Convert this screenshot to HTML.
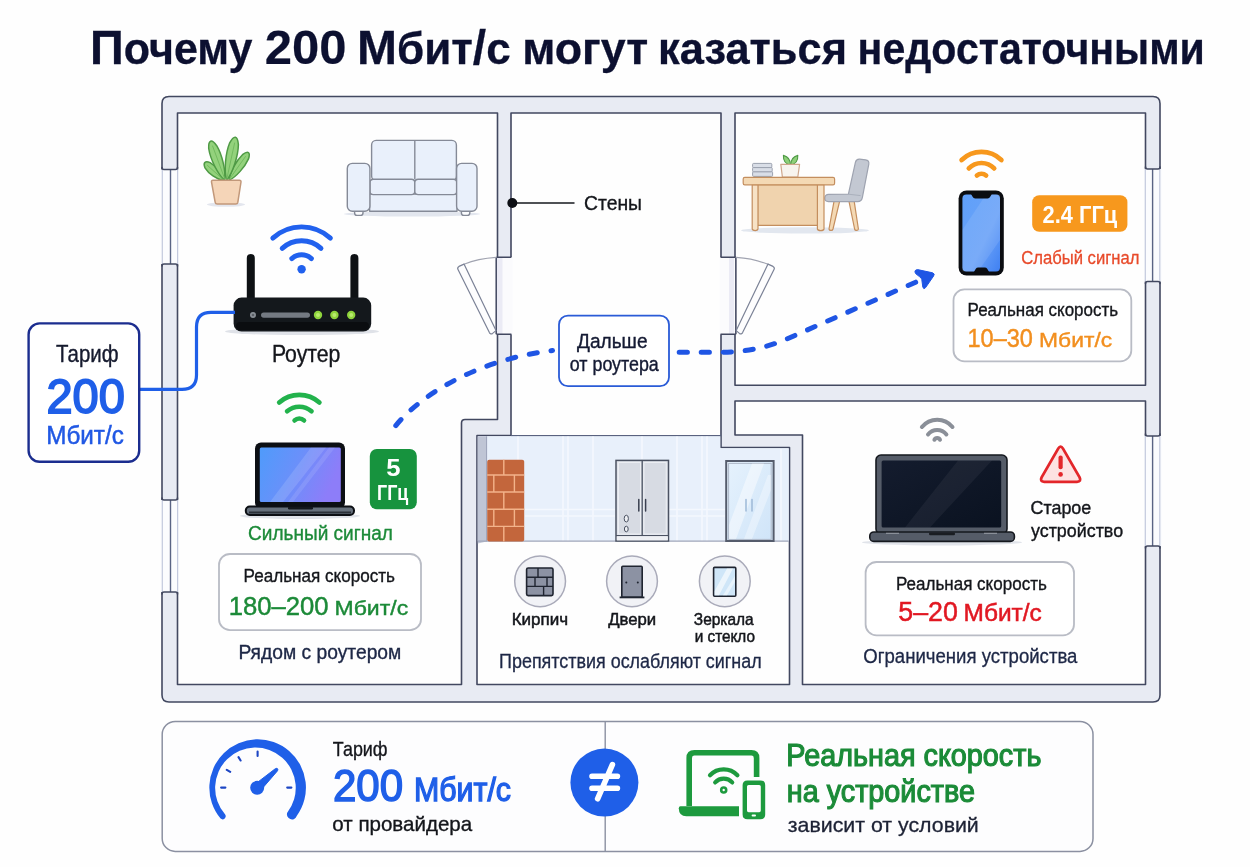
<!DOCTYPE html>
<html lang="ru">
<head>
<meta charset="utf-8">
<title>Почему 200 Мбит/с могут казаться недостаточными</title>
<style>
  html, body { margin: 0; padding: 0; background: #fefefe; }
  body { width: 1250px; height: 867px; overflow: hidden; font-family: "Liberation Sans", sans-serif; }
  svg { display: block; will-change: transform; }
  text { font-family: "Liberation Sans", sans-serif; }
  .b { font-weight: bold; }
  .wall { fill: #e8ebf3; stroke: #424860; stroke-width: 1.6; stroke-linejoin: round; }
  .box { fill: #ffffff; stroke: #b9bcc5; stroke-width: 1.8; }
</style>
</head>
<body>
<svg width="1250" height="867" viewBox="0 0 1250 867">
  <defs>
    <linearGradient id="gScreen" x1="0" y1="0" x2="1" y2="0.3">
      <stop offset="0" stop-color="#4f9bfb"/>
      <stop offset="0.5" stop-color="#6a90fa"/>
      <stop offset="1" stop-color="#8d7df9"/>
    </linearGradient>
    <linearGradient id="gPhone" x1="0" y1="0" x2="1" y2="1">
      <stop offset="0" stop-color="#5fa0fa"/>
      <stop offset="0.6" stop-color="#6aa2f8"/>
      <stop offset="1" stop-color="#3f80f2"/>
    </linearGradient>
    <linearGradient id="gDark" x1="0" y1="0" x2="1" y2="1">
      <stop offset="0" stop-color="#141c2e"/>
      <stop offset="1" stop-color="#0a1220"/>
    </linearGradient>
    <linearGradient id="gGlass" x1="0" y1="0" x2="1" y2="1">
      <stop offset="0" stop-color="#e6f2fd"/>
      <stop offset="1" stop-color="#cfe4f8"/>
    </linearGradient>
  </defs>

  <rect x="0" y="0" width="1250" height="867" fill="#fefefe"/>

  <!-- ===== TITLE ===== -->
<!-- title is rendered in the labels group -->

  <!-- ===== FLOOR PLAN WALLS ===== -->
  <g id="walls">
    <path class="wall" fill-rule="evenodd" d="
      M169,96.5 H1153 Q1160,96.5 1160,103.5 V695 Q1160,702 1153,702 H169 Q162,702 162,695 V103.5 Q162,96.5 169,96.5 Z
      M177.5,113 V684.5 H461.5 V423 Q461.5,419.5 465,419.5 H497.5 V113 Z
      M511,113 V435.5 H477 V684.5 H789.5 V447.5 H721 V113 Z
      M735,113 V385.2 H1145.5 V113 Z
      M735,401 V435 H802.5 V684.5 H1145.5 V401 Z
    "/>
  </g>


  <path id="corr-line" d="M511,435.8 H721" stroke="#59627f" stroke-width="1.5" fill="none"/>
  <!-- windows -->
  <g id="windows">
    <g fill="#fbfcfe" stroke="none">
      <rect x="160.5" y="169.5" width="18.5" height="94.5"/>
      <rect x="160.5" y="500" width="18.5" height="92"/>
      <rect x="1144" y="169" width="18" height="112.5"/>
      <rect x="1144" y="436" width="18" height="110"/>
    </g>
    <g stroke="#c3c9dd" stroke-width="1.2" fill="none">
      <path d="M162.3,169.5 V264 M177.6,169.5 V264 M162.3,500 V592 M177.6,500 V592"/>
      <path d="M1145.3,169 V281.5 M1159.8,169 V281.5 M1145.3,436 V546 M1159.8,436 V546"/>
    </g>
    <g stroke="#5a6484" stroke-width="1.4" fill="none">
      <path d="M170.5,169.5 V264 M170.5,500 V592 M1152.6,169 V281.5 M1152.6,436 V546"/>
    </g>
    <g stroke="#424860" stroke-width="1.6" fill="none" stroke-linecap="round">
      <path d="M162,167.5 Q162,169.5 164,169.5 H175.5 Q177.5,169.5 177.5,167.5"/>
      <path d="M162,266 Q162,264 164,264 H175.5 Q177.5,264 177.5,266"/>
      <path d="M162,498 Q162,500 164,500 H175.5 Q177.5,500 177.5,498"/>
      <path d="M162,594 Q162,592 164,592 H175.5 Q177.5,592 177.5,594"/>
      <path d="M1145.5,167 Q1145.5,169 1147.5,169 H1158 Q1160,169 1160,167"/>
      <path d="M1145.5,283.5 Q1145.5,281.5 1147.5,281.5 H1158 Q1160,281.5 1160,283.5"/>
      <path d="M1145.5,434 Q1145.5,436 1147.5,436 H1158 Q1160,436 1160,434"/>
      <path d="M1145.5,548 Q1145.5,546 1147.5,546 H1158 Q1160,546 1160,548"/>
    </g>
  </g>

  <!-- doors -->
  <g id="doors">
    <g fill="#fbfbfd" stroke="none">
      <rect x="496.6" y="257" width="16" height="77.5"/>
      <rect x="719.5" y="257" width="16" height="77.5"/>
    </g>
    <rect x="497" y="258" width="5.5" height="76" fill="#ebebf5"/>
    <rect x="729" y="258" width="5" height="76" fill="#ebebf5"/>
    <g stroke="#424860" stroke-width="1.6" fill="none">
      <path d="M496.5,257.2 H511.4 M496.5,334.3 H511.4 M720.5,257.2 H735.8 M720.5,334.3 H735.8"/>
      <path d="M496.2,257.2 V334.3 M735.9,257.2 V334.3" stroke-width="1.5"/>
    </g>
    <g stroke="#7b8296" stroke-width="1.2" fill="#fdfdfe" stroke-linejoin="round" stroke-linecap="round">
      <path d="M464,264.2 Q478,258.6 496,257.4" fill="none" stroke="#a0a3b0"/>
      <path d="M459,266.4 Q457,267.6 458,269.6 L489.4,332.6 Q490.6,334.8 492.6,333.4 L496,330.6 L464,264.1 Z"/>
      <path d="M768.4,264.4 Q754,258.6 736.2,257.4" fill="none" stroke="#a0a3b0"/>
      <path d="M773,266.4 Q775,267.6 774,269.6 L742.6,332.6 Q741.4,334.8 739.4,333.4 L736.2,330.6 L768,264.1 Z"/>
    </g>
  </g>

  <!-- ===== LEFT ROOM ===== -->
  <g id="plant">
    <ellipse cx="226" cy="204.6" rx="19" ry="2.2" fill="#e3e6ee"/>
    <g fill="#93d27c" stroke="#4f9a45" stroke-width="1.5" stroke-linejoin="round">
      <path d="M223.2,180.4 C222.2,174.1 215.9,165.9 210.1,162.6 C207.0,161.4 205.7,161.7 204.8,162.6 C203.9,163.5 203.7,164.8 205.0,167.9 C208.4,173.6 216.8,179.6 223.2,180.4 Z"/>
      <path d="M229.0,180.4 C236.1,177.1 245.0,166.8 248.5,158.9 C249.8,154.8 249.5,153.3 248.4,152.6 C247.3,151.9 245.9,152.1 242.5,154.7 C236.2,160.6 229.7,172.6 229.0,180.4 Z"/>
      <path d="M224.6,180.4 C226.0,171.0 222.1,154.8 216.7,145.7 C213.6,141.5 212.0,140.7 210.6,141.2 C209.2,141.7 208.4,143.3 208.7,148.5 C210.3,159.0 217.6,174.1 224.6,180.4 Z"/>
      <path d="M226.6,180.4 C232.9,172.7 238.2,155.8 238.4,144.6 C237.9,139.1 236.9,137.5 235.4,137.2 C233.9,136.9 232.3,137.9 229.7,142.8 C225.5,153.2 223.8,170.8 226.6,180.4 Z"/>
    </g>
    <path d="M222.6,179 L207.5,165.5 M229.6,179 L245.5,156.5 M224.8,179 L212.6,146 M226.8,179 L234.6,143" stroke="#6fb85c" stroke-width="0.9" fill="none" stroke-linecap="round"/>
    <path d="M213,180.2 H239.4 Q241.2,180.2 241,182 L237.8,202.4 Q237.5,204 235.8,204 H217.2 Q215.5,204 215.2,202.4 L211.5,182 Q211.2,180.2 213,180.2 Z" fill="#f5d5b8" stroke="#c2987a" stroke-width="1.5" stroke-linejoin="round"/>
  </g>

  <g id="sofa">
    <ellipse cx="412" cy="214" rx="68" ry="2.6" fill="#e2e6ee"/>
    <g fill="#e9f0fb" stroke="#858a97" stroke-width="1.4" stroke-linejoin="round">
      <rect x="354.6" y="209" width="8.4" height="6.4" rx="2.4" fill="#fbfcfe"/>
      <rect x="461.4" y="209" width="8.4" height="6.4" rx="2.4" fill="#fbfcfe"/>
      <rect x="369.6" y="194" width="87.4" height="17.2"/>
      <rect x="371.6" y="140.4" width="84.8" height="40" rx="4.5"/>
      <path d="M414.8,140.4 V179" fill="none"/>
      <rect x="370" y="179.2" width="44.8" height="15.4" rx="3.4"/>
      <rect x="414.8" y="179.2" width="42" height="15.4" rx="3.4"/>
      <rect x="347.3" y="163.4" width="22.6" height="47.8" rx="5"/>
      <rect x="456.6" y="163.4" width="20.4" height="47.8" rx="5"/>
    </g>
  </g>
  </g>

  <g id="wifi-blue" fill="none" stroke="#2161ee" stroke-width="4.9" stroke-linecap="round">
    <path d="M291.8,258.6 A14.5,14.5 0 0 1 311.4,258.6"/>
    <path d="M282.2,248.4 A28.5,28.5 0 0 1 321,248.4"/>
    <path d="M272.8,238.1 A42.5,42.5 0 0 1 330.4,238.1"/>
    <circle cx="301.6" cy="269.2" r="4.2" fill="#2161ee" stroke="none"/>
  </g>

  <g id="router">
    <ellipse cx="302" cy="331.5" rx="77" ry="3.6" fill="#dfe2e8"/>
    <rect x="246.8" y="254" width="8" height="50" rx="4" fill="#0e1114"/>
    <rect x="350.4" y="254" width="8" height="50" rx="4" fill="#0e1114"/>
    <rect x="233.6" y="297.6" width="137.6" height="34" rx="8" fill="#14181c"/>
    <rect x="236" y="322" width="133" height="8" rx="4" fill="#0b0d10"/>
    <circle cx="253" cy="315" r="3" fill="#8a8f96"/>
    <circle cx="253" cy="315" r="1.3" fill="#5a5f66"/>
    <rect x="261" y="312.4" width="49" height="5.4" rx="2.7" fill="#747a82"/>
    <g fill="#8fd43c">
      <circle cx="318" cy="315" r="4.2"/><circle cx="334.4" cy="315" r="4.2"/><circle cx="351.2" cy="315" r="4.2"/>
    </g>
    <g fill="#b9ea6e">
      <circle cx="318" cy="315" r="2"/><circle cx="334.4" cy="315" r="2"/><circle cx="351.2" cy="315" r="2"/>
    </g>
  </g>

  <!-- cable + tariff box -->
  <path d="M139,389.3 H182 Q196.5,389.3 196.5,375 V327 Q196.5,312.3 211,312.3 H235" fill="none" stroke="#1f5fe8" stroke-width="3.2"/>
  <rect x="28.6" y="323.4" width="110.6" height="138.4" rx="11" fill="#ffffff" stroke="#1b2d8f" stroke-width="2.4"/>

  <!-- laptop near router -->
  <g id="wifi-green" fill="none" stroke="#22b24c" stroke-width="4.7" stroke-linecap="round">
    <path d="M294.6,420.4 A6.8,6.8 0 0 1 304.0,420.4"/>
    <path d="M287.1,411.3 A18.6,18.6 0 0 1 311.5,411.3"/>
    <path d="M279.2,402.5 A30.4,30.4 0 0 1 319.4,402.5"/>
  </g>
  <g id="laptop1">
    <ellipse cx="300" cy="516" rx="60" ry="3" fill="#e1e4ea"/>
    <rect x="255" y="442.6" width="90" height="66" rx="6" fill="#0c0f14"/>
    <rect x="259.8" y="447.5" width="81" height="54.5" rx="1.5" fill="url(#gScreen)"/>
    <path d="M311,447.5 L326,447.5 L283,502 L270,502 Z" fill="#ffffff" opacity="0.13"/>
    <path d="M329,447.5 L335,447.5 L293,502 L288,502 Z" fill="#ffffff" opacity="0.1"/>
    <rect x="245.8" y="506.6" width="108.2" height="8.4" rx="4" fill="#66707c" stroke="#0c0f14" stroke-width="2"/>
    <path d="M249,512.6 H351" stroke="#2a3038" stroke-width="2" fill="none"/>
    <rect x="288" y="506.8" width="25" height="2.6" rx="1.2" fill="#14171c"/>
  </g>
  <rect x="369.8" y="448.9" width="47" height="60.4" rx="7" fill="#17933e"/>
  <rect class="box" x="219" y="554" width="202" height="76.2" rx="11"/>

  <!-- ===== CORRIDOR ===== -->
  <path d="M512.5,203 H574.5" stroke="#15171c" stroke-width="1.6" fill="none"/>
  <circle cx="512.3" cy="203" r="5" fill="#0d0f14"/>

  <g id="dash" fill="none" stroke="#1f55e4" stroke-width="5" stroke-linecap="round" stroke-dasharray="8.2 13.8">
    <path d="M395.8,425.6 C424,391 484,358.5 552.5,350.5"/>
    <path d="M679.2,352.3 H720 Q754.6,352.3 785,339.8 L917,281.6"/>
  </g>
  <path d="M917.6,269.6 L932.6,272.8 Q935.2,273.6 933.6,276 L925.6,287.6 Q923.6,290 922.8,287 L921.8,279.6 Q921.4,277.6 919.4,276.6 L915.6,273.6 Q913.6,270 917.6,269.6 Z" fill="#1f55e4" stroke="#1f55e4" stroke-width="1" stroke-linejoin="round"/>

  <rect x="559" y="315.6" width="110" height="70.6" rx="9" fill="#ffffff" stroke="#2a5bd7" stroke-width="1.8"/>

  <!-- ===== RIGHT TOP ROOM ===== -->
  <g id="desk">
    <ellipse cx="805" cy="230.4" rx="64" ry="3.2" fill="#e2e7ef"/>
    <!-- books -->
    <g fill="#d9dee7" stroke="#9aa0ae" stroke-width="1">
      <rect x="752.6" y="171.6" width="20" height="4.8" rx="1"/>
      <rect x="752.6" y="167.4" width="19.6" height="4.4" rx="1"/>
      <rect x="752.6" y="163.4" width="19.2" height="4.2" rx="1"/>
    </g>
    <!-- small plant -->
    <g fill="#8fd07a" stroke="#4f9a45" stroke-width="1.1" stroke-linejoin="round">
      <path d="M790.4,165 Q783,163.5 783.4,155.4 Q790.6,157.4 790.4,165 Z"/>
      <path d="M790.8,165 Q798.2,163.5 797.8,155.4 Q790.6,157.4 790.8,165 Z"/>
    </g>
    <path d="M780.8,164.4 H799.6 L797.8,177 H782.4 Z" fill="#f8f4ee" stroke="#cfa78c" stroke-width="1.2" stroke-linejoin="round"/>
    <!-- chair -->
    <g stroke-width="1.2" stroke-linejoin="round">
      <path d="M834,201.4 L829,229 Q829.4,230.6 831.2,230.4 Q832.6,230.4 833,229 L839.6,201.4 Z" fill="#f4d9b4" stroke="#c48e5e"/>
      <path d="M849,201.4 L854.6,229 Q855,230.6 856.6,230.4 Q858.2,230.4 858.4,229 L854.2,201.4 Z" fill="#f4d9b4" stroke="#c48e5e"/>
      <path d="M855.4,162.4 Q856.2,159 859.6,159.2 L865.6,159.8 Q869.4,160.4 868.8,164.2 L862.4,197.4 Q861.6,201.6 857.6,201.6 H828.4 Q824.6,201.4 824.8,198 Q825,194.6 828.6,194.4 L848.4,194.2 Z" fill="#c3c8d2" stroke="#9ea3b0"/>
      <path d="M848.4,194.2 L860.6,195.6" stroke="#aab0bc" fill="none" stroke-width="1"/>
    </g>
    <!-- desk -->
    <g stroke="#c48e5e" stroke-width="1.2" stroke-linejoin="round">
      <rect x="757.6" y="184.6" width="60" height="40.8" fill="#f0d3ae"/>
      <path d="M752.2,184.6 H758 V229 Q757.6,230.6 755.2,230.6 Q752.6,230.6 752.2,229 Z" fill="#f7e2c6"/>
      <path d="M817.4,184.6 H824 V229 Q823.6,230.6 820.8,230.6 Q817.8,230.6 817.4,229 Z" fill="#f7e2c6"/>
      <rect x="743.2" y="177.4" width="91.4" height="7.4" rx="1.6" fill="#f4d9b4"/>
    </g>
  </g>

  <g id="wifi-orange" fill="none" stroke="#f7981d" stroke-width="4.7" stroke-linecap="round">
    <path d="M976.9,175.5 A6.9,6.9 0 0 1 986.1,175.5"/>
    <path d="M968.8,168.4 A17.6,17.6 0 0 1 994.2,168.4"/>
    <path d="M961.6,160.0 A28.6,28.6 0 0 1 1001.4,160.0"/>
  </g>
  <g id="phone">
    <rect x="958.6" y="190.4" width="45.2" height="85.2" rx="8" fill="#0b0d11"/>
    <rect x="962.4" y="194.4" width="37.6" height="77.2" rx="4" fill="url(#gPhone)"/>
    <path d="M986,194.4 L1000,194.4 L1000,240 L978,271.6 L962.4,271.6 L962.4,230 Z" fill="#ffffff" opacity="0.1"/>
    <path d="M970.4,193 H992.4 L990.2,196.8 Q989.4,198.4 987.6,198.4 H975.2 Q973.4,198.4 972.6,196.8 Z" fill="#0b0d11"/>
    <path d="M973.6,272.6 L975.8,268.8 Q976.6,267.4 978.2,267.4 H984.8 Q986.4,267.4 987.2,268.8 L989.4,272.6 Z" fill="#0b0d11"/>
  </g>
  <rect x="1032.2" y="195.2" width="95.2" height="36.6" rx="7" fill="#f7981d"/>
  <rect class="box" x="953.5" y="289.4" width="177.8" height="72" rx="11"/>

  <!-- ===== OBSTACLES ROOM ===== -->
  <g id="tiles">
    <path d="M477.8,436.3 H720.3 V448.3 H788.7 V541 H477.8 Z" fill="#e8f0fb"/>
    <g stroke="#f4f8fe" stroke-width="1.6" fill="none">
      <path d="M518,436.5 V541 M563,436.5 V541 M568,436.5 V541 M593,436.5 V541 M642,436.5 V459 M677,436.5 V541 M702,436.5 V541 M707,436.5 V541 M781,449 V541"/>
      <path d="M525,509.5 H615 M525,516 H615 M669,509.5 H725 M669,516 H725"/>
    </g>
    <path d="M477.8,436.3 H486.6 V541.4 L477.8,543.4 Z" fill="#bfc5d5"/>
    <path d="M486.6,436.3 V541.4" stroke="#9aa2b8" stroke-width="1" fill="none"/>
    <path d="M477.8,541.2 H788.7" stroke="#9fa6ba" stroke-width="1.3" fill="none"/>
  </g>
  <g id="brick">
    <rect x="487.2" y="459.8" width="37" height="81.6" rx="2" fill="#c3663c"/>
    <g stroke="#f3b38a" stroke-width="1.4" fill="none">
      <path d="M487.2,475 H524.2 M487.2,492 H524.2 M487.2,509.2 H524.2 M487.2,526.4 H524.2"/>
      <path d="M503.8,459.8 V475 M493.8,475 V492 M514.4,475 V492 M503.8,492 V509.2 M493.8,509.2 V526.4 M514.4,509.2 V526.4 M503.8,526.4 V541.4"/>
    </g>
  </g>
  <g id="cabinet">
    <rect x="616" y="460.4" width="52.5" height="80.6" fill="#dfe3ea" stroke="#4b5262" stroke-width="1.5"/>
    <path d="M616,535.6 H668.5" stroke="#4b5262" stroke-width="1.2" fill="none"/>
    <rect x="616.8" y="536.2" width="51" height="4.2" fill="#eef0f4"/>
    <path d="M642.2,460.4 V535.6" stroke="#4b5262" stroke-width="1.3" fill="none"/>
    <path d="M618.5,462.5 H640.5 V534 H618.5 Z M644,462.5 H666.2 V534 H644 Z" fill="#d7dbe3" stroke="#eceef3" stroke-width="1"/>
    <path d="M638.8,499.4 V511 M645.6,499.4 V511" stroke="#3a4050" stroke-width="1.5" stroke-linecap="round" fill="none"/>
    <ellipse cx="626.3" cy="518.6" rx="2.1" ry="3.4" fill="#eef0f4" stroke="#4b5262" stroke-width="1"/>
    <ellipse cx="626.3" cy="529" rx="1.9" ry="2.8" fill="#eef0f4" stroke="#4b5262" stroke-width="1"/>
  </g>
  <g id="glassdoor">
    <rect x="726.2" y="461" width="47.4" height="80" fill="url(#gGlass)" stroke="#555c6c" stroke-width="2"/>
    <rect x="728.6" y="463.4" width="42.6" height="76" fill="none" stroke="#aeb8c8" stroke-width="1"/>
    <path d="M752,463.5 L764,463.5 L736,539 L729,539 L729,525 Z" fill="#ffffff" opacity="0.45"/>
    <path d="M768,475 L771,475 L771,490 L752,539 L744,539 Z" fill="#ffffff" opacity="0.35"/>
    <path d="M746,499.4 V511 M752,499.4 V511" stroke="#9db9d8" stroke-width="1.5" stroke-linecap="round" fill="none"/>
  </g>

  <g id="obst-icons">
    <g fill="#f1f2f6" stroke="#a9aab9" stroke-width="1.5">
      <circle cx="540.1" cy="581.3" r="25.4"/>
      <circle cx="632" cy="581.3" r="25.4"/>
      <circle cx="724.8" cy="581.3" r="25.4"/>
    </g>
    <!-- brick icon -->
    <rect x="526.6" y="568" width="26.4" height="27.6" rx="1.6" fill="#8c92a3" stroke="#1f2430" stroke-width="1.6"/>
    <path d="M526.6,577.2 H553 M526.6,586.4 H553 M538,568 V577.2 M535,577.2 V586.4 M547,577.2 V586.4 M543.6,586.4 V595.6" stroke="#1f2430" stroke-width="1.4" fill="none"/>
    <!-- door icon -->
    <rect x="621.8" y="566.2" width="20.4" height="31" rx="1" fill="#8c92a3" stroke="#1f2430" stroke-width="1.6"/>
    <path d="M619.6,597.4 H644.4" stroke="#1f2430" stroke-width="1.8" fill="none"/>
    <circle cx="626.3" cy="582.6" r="1" fill="#1f2430"/>
    <circle cx="637.8" cy="582.6" r="1" fill="#1f2430"/>
    <!-- glass icon -->
    <rect x="713.6" y="567.4" width="22.2" height="28.8" rx="1" fill="#cfe6f8" stroke="#1f2430" stroke-width="1.6"/>
    <path d="M727,568.4 L733,568.4 L719,595.2 L714.6,595.2 L714.6,591 Z" fill="#ffffff" opacity="0.6"/>
    <path d="M734.8,576 L734.8,582 L727,595.2 L723,595.2 Z" fill="#ffffff" opacity="0.5"/>
  </g>

  <!-- ===== RIGHT BOTTOM ROOM ===== -->
  <g id="wifi-grey" fill="none" stroke="#8a8f98" stroke-width="4" stroke-linecap="round">
    <path d="M934.4,439.8 A3.0,3.0 0 0 1 940.0,439.8"/>
    <path d="M928.0,434.5 A11.7,11.7 0 0 1 946.4,434.5"/>
    <path d="M921.9,427.0 A19.7,19.7 0 0 1 952.5,427.0"/>
  </g>
  <g id="laptop2">
    <ellipse cx="942" cy="542.4" rx="80" ry="3" fill="#e1e4ea"/>
    <rect x="876" y="455" width="131" height="79" rx="5" fill="#555c68" stroke="#15181e" stroke-width="1.6"/>
    <rect x="881.6" y="460.4" width="119.6" height="67" rx="1.5" fill="url(#gDark)"/>
    <path d="M958,460.4 L992,460.4 L930,527.4 L905,527.4 Z" fill="#ffffff" opacity="0.05"/>
    <rect x="869.8" y="532" width="144.6" height="9.4" rx="4" fill="#555c68" stroke="#15181e" stroke-width="1.6"/>
    <rect x="929" y="532.6" width="26" height="2.6" rx="1.2" fill="#1a1d22"/>
    <path d="M886,533.4 H899 M984,533.4 H997" stroke="#8a9099" stroke-width="1.4" fill="none"/>
  </g>
  <g id="warn">
    <path d="M1058.2,448.6 Q1060.6,444.6 1063,448.6 L1079.6,477.4 Q1081.6,481.6 1077,481.8 H1044.2 Q1039.6,481.6 1041.6,477.4 Z" fill="#fde2e2" stroke="#e3262a" stroke-width="2.8" stroke-linejoin="round"/>
    <rect x="1058.5" y="455.6" width="4.2" height="13.6" rx="2" fill="#e3262a"/>
    <circle cx="1060.6" cy="474.4" r="2.3" fill="#e3262a"/>
  </g>
  <rect class="box" x="865.6" y="562" width="208.4" height="73.4" rx="11"/>

  <!-- ===== BOTTOM PANEL ===== -->
  <g id="bottom">
    <rect x="162.2" y="721.4" width="930.8" height="130" rx="13" fill="#fdfdfe" stroke="#8b90a1" stroke-width="1.5"/>
    <path d="M605.2,721.4 V851.4" stroke="#8b90a1" stroke-width="1.4" fill="none"/>
    <!-- gauge -->
    <path d="M220.6,818.6 A48.3,48.3 0 1 1 296.7,816.0 A5.0,5.0 0 0 1 287.2,812.7 A40.3,40.3 0 1 0 225.0,814.3 A3.1,3.1 0 0 1 220.6,818.6 Z" fill="#1f5fe8"/>
    <path d="M221.1,787.6 L225.4,787.6 M287.2,787.6 L291.4,787.6 M257.6,751.6 L257.6,756.0 M238.5,757.1 L240.6,760.5 M226.8,769.8 L230.2,771.8" stroke="#1d46c4" stroke-width="2.1" stroke-linecap="round" fill="none"/>
    <path d="M254.8,784.4 L275.2,768.8 Q277.4,767.4 277.8,769.2 Q278,770.2 277.2,771.2 L260.6,790.4 Z" fill="#1f5fe8" stroke="#1f5fe8" stroke-width="1" stroke-linejoin="round"/>
    <circle cx="257.2" cy="787.8" r="7" fill="#1f5fe8"/>
    <!-- not equal -->
    <circle cx="604.4" cy="782.6" r="34" fill="#1f5fe8"/>
    <g stroke="#ffffff" stroke-width="5.6" stroke-linecap="round" fill="none">
      <path d="M592,776.2 H617.4 M592,788.2 H617.4 M612.4,764.6 L597.6,798.8"/>
    </g>
    <!-- devices icon -->
    <g fill="none" stroke="#1d9a3e" stroke-linecap="round" stroke-linejoin="round">
      <path d="M689.2,806 V758 Q689.2,752.8 694.4,752.8 H751.4 Q756.6,752.8 756.6,758 V777" stroke-width="5.6" stroke-linecap="butt"/>
      <path d="M715.2,782.4 A11.6,11.6 0 0 1 732.2,782.4" stroke-width="4.2"/>
      <path d="M710,775.2 A19,19 0 0 1 737.4,775.2" stroke-width="4.2"/>
    </g>
    <path d="M680.4,806.2 H739 V816.2 H686.4 Q678.8,816.2 678.8,808.2 Q678.8,806.2 680.4,806.2 Z" fill="#1d9a3e"/>
    <path fill-rule="evenodd" d="M747.4,780.4 H760.4 Q765.2,780.4 765.2,785.2 V814.4 Q765.2,819.2 760.4,819.2 H747.4 Q742.6,819.2 742.6,814.4 V785.2 Q742.6,780.4 747.4,780.4 Z M748.6,785 Q747,785 747,786.6 V810.6 Q747,812.2 748.6,812.2 H759.2 Q760.8,812.2 760.8,810.6 V786.6 Q760.8,785 759.2,785 Z" fill="#1d9a3e"/>
    <rect x="740.6" y="778.4" width="26.6" height="42.8" rx="6.6" fill="none" stroke="#fdfdfe" stroke-width="2"/>
    <circle cx="723.7" cy="790" r="2.5" fill="none" stroke="#1d9a3e" stroke-width="2.6"/>
    <rect x="751.6" y="814.6" width="4.4" height="2" rx="1" fill="#ffffff"/>
  </g>
  <g id="labels">
    <text class="b" x="90.0" y="63.7" font-size="44.0" fill="#0c1030" stroke="#0c1030" stroke-width="0.3" textLength="162.4" lengthAdjust="spacingAndGlyphs"><tspan font-size="48">П</tspan>очему</text>
    <text class="b" x="264.7" y="63.7" font-size="48.0" fill="#0c1030" stroke="#0c1030" stroke-width="0.2" textLength="81.7" lengthAdjust="spacingAndGlyphs">200</text>
    <text class="b" x="357.1" y="63.7" font-size="44.0" fill="#0c1030" stroke="#0c1030" stroke-width="0.3" textLength="153.6" lengthAdjust="spacingAndGlyphs"><tspan font-size="48">М</tspan>бит<tspan font-size="48">/</tspan>с</text>
    <text class="b" x="522.2" y="63.7" font-size="44.0" fill="#0c1030" stroke="#0c1030" stroke-width="0.3" textLength="125.9" lengthAdjust="spacingAndGlyphs">могут</text>
    <text class="b" x="658.0" y="63.7" font-size="44.0" fill="#0c1030" stroke="#0c1030" stroke-width="0.3" textLength="189.0" lengthAdjust="spacingAndGlyphs">казаться</text>
    <text class="b" x="857.6" y="63.7" font-size="44.0" fill="#0c1030" stroke="#0c1030" stroke-width="0.3" textLength="347.3" lengthAdjust="spacingAndGlyphs">недостаточными</text>
    <text x="271.9" y="362.4" font-size="23.5" fill="#14161b" stroke="#14161b" stroke-width="0.35" textLength="68.5" lengthAdjust="spacingAndGlyphs">Роутер</text>
    <text x="56.0" y="362.2" font-size="24.0" fill="#151a2e" stroke="#151a2e" stroke-width="0.4" textLength="62.5" lengthAdjust="spacingAndGlyphs">Тариф</text>
    <text x="46.4" y="413.0" font-size="48.0" fill="#1f5fe8" stroke="#1f5fe8" stroke-width="1.8" textLength="78.4" lengthAdjust="spacingAndGlyphs">200</text>
    <text x="46.2" y="443.8" font-size="25.0" fill="#2058e4" stroke="#2058e4" stroke-width="0.5" textLength="77.6" lengthAdjust="spacingAndGlyphs">Мбит/с</text>
    <text class="b" x="386.2" y="476.0" font-size="23.5" fill="#ffffff" textLength="14.3" lengthAdjust="spacingAndGlyphs">5</text>
    <text class="b" x="377.0" y="500.0" font-size="21.5" fill="#ffffff" textLength="31.3" lengthAdjust="spacingAndGlyphs">ГГц</text>
    <text x="248.0" y="540.0" font-size="19.5" fill="#1c8a38" stroke="#1c8a38" stroke-width="0.35" textLength="144.9" lengthAdjust="spacingAndGlyphs">Сильный сигнал</text>
    <text x="243.5" y="582.2" font-size="17.5" fill="#14161b" stroke="#14161b" stroke-width="0.35" textLength="151.5" lengthAdjust="spacingAndGlyphs">Реальная скорость</text>
    <text x="228.7" y="614.6" font-size="26.5" fill="#1c8a38" stroke="#1c8a38" stroke-width="0.45" textLength="99.9" lengthAdjust="spacingAndGlyphs">180–200</text>
    <text x="334.5" y="614.6" font-size="20.0" fill="#1c8a38" stroke="#1c8a38" stroke-width="0.4" textLength="73.7" lengthAdjust="spacingAndGlyphs">Мбит/с</text>
    <text x="238.4" y="659.2" font-size="19.5" fill="#1d2746" stroke="#1d2746" stroke-width="0.35" textLength="162.9" lengthAdjust="spacingAndGlyphs">Рядом с роутером</text>
    <text x="584.0" y="209.8" font-size="21.0" fill="#14161b" stroke="#14161b" stroke-width="0.35" textLength="58.0" lengthAdjust="spacingAndGlyphs">Стены</text>
    <text x="577.0" y="347.8" font-size="20.5" fill="#141a33" stroke="#141a33" stroke-width="0.4" textLength="70.5" lengthAdjust="spacingAndGlyphs">Дальше</text>
    <text x="569.8" y="370.6" font-size="20.5" fill="#141a33" stroke="#141a33" stroke-width="0.4" textLength="89.0" lengthAdjust="spacingAndGlyphs">от роутера</text>
    <text class="b" x="1042.6" y="222.8" font-size="24.0" fill="#ffffff" textLength="74.6" lengthAdjust="spacingAndGlyphs">2.4 ГГц</text>
    <text x="1021.2" y="264.3" font-size="18.5" fill="#e84a2a" stroke="#e84a2a" stroke-width="0.3" textLength="118.3" lengthAdjust="spacingAndGlyphs">Слабый сигнал</text>
    <text x="967.6" y="316.2" font-size="17.5" fill="#14161b" stroke="#14161b" stroke-width="0.35" textLength="150.5" lengthAdjust="spacingAndGlyphs">Реальная скорость</text>
    <text x="967.5" y="347.2" font-size="26.5" fill="#f28f1f" stroke="#f28f1f" stroke-width="0.45" textLength="65.4" lengthAdjust="spacingAndGlyphs">10–30</text>
    <text x="1039.1" y="347.2" font-size="19.5" fill="#f28f1f" stroke="#f28f1f" stroke-width="0.4" textLength="73.1" lengthAdjust="spacingAndGlyphs">Мбит/с</text>
    <text x="511.7" y="625.4" font-size="17.0" fill="#14161b" stroke="#14161b" stroke-width="0.5" textLength="56.4" lengthAdjust="spacingAndGlyphs">Кирпич</text>
    <text x="608.2" y="625.4" font-size="17.0" fill="#14161b" stroke="#14161b" stroke-width="0.5" textLength="48.0" lengthAdjust="spacingAndGlyphs">Двери</text>
    <text x="693.8" y="625.4" font-size="17.0" fill="#14161b" stroke="#14161b" stroke-width="0.5" textLength="59.9" lengthAdjust="spacingAndGlyphs">Зеркала</text>
    <text x="694.7" y="641.6" font-size="17.0" fill="#14161b" stroke="#14161b" stroke-width="0.5" textLength="60.3" lengthAdjust="spacingAndGlyphs">и стекло</text>
    <text x="499.1" y="667.6" font-size="19.5" fill="#1d2746" stroke="#1d2746" stroke-width="0.3" textLength="262.6" lengthAdjust="spacingAndGlyphs">Препятствия ослабляют сигнал</text>
    <text x="1030.5" y="513.6" font-size="19.0" fill="#14161b" stroke="#14161b" stroke-width="0.4" textLength="60.8" lengthAdjust="spacingAndGlyphs">Старое</text>
    <text x="1031.0" y="536.8" font-size="19.0" fill="#14161b" stroke="#14161b" stroke-width="0.4" textLength="92.1" lengthAdjust="spacingAndGlyphs">устройство</text>
    <text x="896.0" y="589.8" font-size="17.5" fill="#14161b" stroke="#14161b" stroke-width="0.35" textLength="150.8" lengthAdjust="spacingAndGlyphs">Реальная скорость</text>
    <text x="898.3" y="621.4" font-size="27.0" fill="#e11822" stroke="#e11822" stroke-width="0.5" textLength="59.6" lengthAdjust="spacingAndGlyphs">5–20</text>
    <text x="963.5" y="621.4" font-size="23.5" fill="#e11822" stroke="#e11822" stroke-width="0.5" textLength="78.3" lengthAdjust="spacingAndGlyphs">Мбит/с</text>
    <text x="863.3" y="662.8" font-size="19.5" fill="#1d2746" stroke="#1d2746" stroke-width="0.3" textLength="214.1" lengthAdjust="spacingAndGlyphs">Ограничения устройства</text>
    <text x="332.8" y="755.8" font-size="21.0" fill="#14161b" stroke="#14161b" stroke-width="0.35" textLength="54.8" lengthAdjust="spacingAndGlyphs">Тариф</text>
    <text x="332.9" y="801.0" font-size="44.0" fill="#1f5fe8" stroke="#1f5fe8" stroke-width="1.5" textLength="70.2" lengthAdjust="spacingAndGlyphs">200</text>
    <text x="414.0" y="801.0" font-size="33.0" fill="#1f5fe8" stroke="#1f5fe8" stroke-width="1.3" textLength="97.0" lengthAdjust="spacingAndGlyphs">Мбит/с</text>
    <text x="332.3" y="831.4" font-size="21.0" fill="#14161b" stroke="#14161b" stroke-width="0.35" textLength="139.9" lengthAdjust="spacingAndGlyphs">от провайдера</text>
    <text x="786.3" y="765.8" font-size="30.5" fill="#1b8b38" stroke="#1b8b38" stroke-width="1.15" textLength="255.1" lengthAdjust="spacingAndGlyphs">Реальная скорость</text>
    <text x="786.8" y="801.6" font-size="30.5" fill="#1b8b38" stroke="#1b8b38" stroke-width="1.15" textLength="188.2" lengthAdjust="spacingAndGlyphs">на устройстве</text>
    <text x="787.8" y="831.8" font-size="21.0" fill="#1d2235" stroke="#1d2235" stroke-width="0.3" textLength="191.0" lengthAdjust="spacingAndGlyphs">зависит от условий</text>
  </g>
</svg>
</body>
</html>
